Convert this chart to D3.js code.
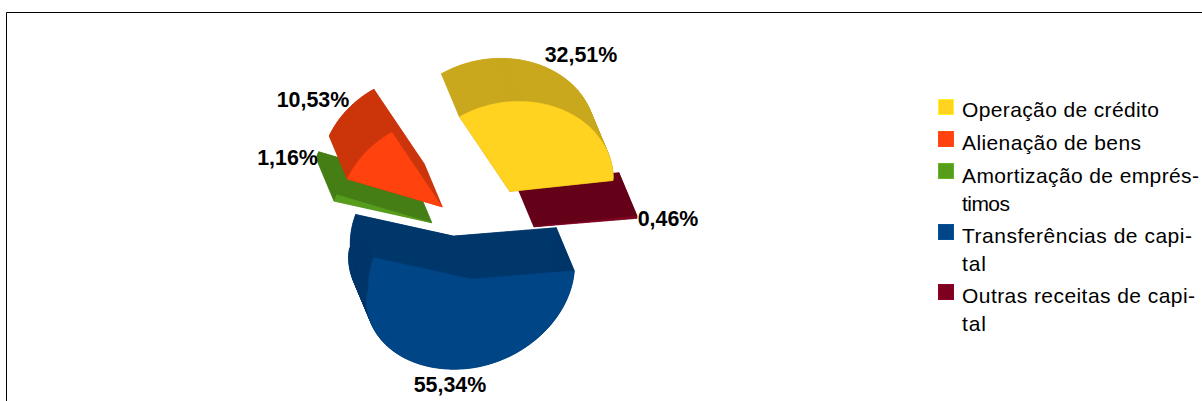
<!DOCTYPE html>
<html><head><meta charset="utf-8">
<script src="https://cdn.jsdelivr.net/npm/d3@7"></script>
<style>html,body{margin:0;padding:0;background:#fff}svg{display:block}text{font-family:"Liberation Sans",Arial,sans-serif}</style>
</head><body><svg id="c" width="1202" height="401"></svg>
<script>
const categories=["Operação de crédito","Alienação de bens","Amortização de empréstimos","Transferências de capital","Outras receitas de capital"];
const values=[32.51,10.53,1.16,55.34,0.46];
const valueLabels=["32,51%","10,53%","1,16%","55,34%","0,46%"];
const legendLines=[["Operação de crédito"],["Alienação de bens"],["Amortização de emprés-","timos"],["Transferências de capi-","tal"],["Outras receitas de capi-","tal"]];
const faceColors=["#FFD320","#FF420E","#579D1C","#004586","#7E0021"];
const wallColors=["#C9A81E","#CC350B","#467E16","#00376B","#650019"];
const explode=[0.537,0.537,0.537,0.48,0.49];
const sliceNudge=[[-1.5,-0.5],[0,0],[0,0],[0,0],[0,-4.5]];

const legendWidths={"Operação de crédito":197,"Alienação de bens":179,"Amortização de emprés-":237,"timos":48,"Transferências de capi-":230,"tal":24,"Outras receitas de capi-":233};
const legendBaselines=[[117],[150],[183,211],[243,271],[303,331]];
const swatchTops=[99,131,163,224,284];
const labelCentres=[[581,62],[313,107],[287.5,165],[450,392],[668,226]];

const svg=d3.select("#c");
svg.append("path").attr("d","M6.5,401V12.5H1202").attr("fill","none").attr("stroke","#000").attr("stroke-width",1);

const C=[483.5,236],A=[103,-11],Bback=[4,89.4],Bfront=[-4,89.4],D=[-18,-43];
function proj(u,v,z,o){
  const B=v>0?Bfront:Bback;
  const bulge=(u<0&&v>0)?6*u*Math.sqrt(v):(u>0&&v<0)?3*u*Math.sqrt(-v):0;
  return [C[0]+o[0]+u*A[0]+v*B[0]+bulge+z*D[0], C[1]+o[1]+u*A[1]+v*B[1]+z*D[1]];
}
const pie=d3.pie().sort(null).startAngle(0).endAngle(2*Math.PI);
const arcs=pie(values);
const line=d3.line();
function sliceGeom(i){
  const a=arcs[i],s=-a.startAngle,e=-a.endAngle,m=(s+e)/2;
  const o0=proj(Math.cos(m),Math.sin(m),0,[0,0]);
  const o=[(o0[0]-C[0])*explode[i]+sliceNudge[i][0],(o0[1]-C[1])*explode[i]+sliceNudge[i][1]];
  const n=Math.max(2,Math.ceil(Math.abs(e-s)/0.02));
  const ang=d3.range(n+1).map(k=>s+(e-s)*k/n);
  const rim=z=>ang.map(t=>proj(Math.cos(t),Math.sin(t),z,o));
  const apex=z=>proj(0,0,z,o);
  return {rim,apex};
}
const order=[3,4,0,2,1];
const g=svg.append("g");
order.forEach(i=>{
  const {rim,apex}=sliceGeom(i);
  const f=rim(0),b=rim(1),af=apex(0),ab=apex(1);
  const walls=[
    [ab,...b],
    [af,f[0],b[0],ab],
    [af,f[f.length-1],b[b.length-1],ab],
    ...d3.pairs(d3.range(f.length)).map(([p,q])=>[f[p],f[q],b[q],b[p]])
  ];
  g.append("g").selectAll("path").data(walls).join("path").attr("d",w=>line(w)+"Z")
    .attr("fill",wallColors[i]).attr("stroke",wallColors[i]).attr("stroke-width",0.5);
  g.append("path").attr("d",line([af,...f])+"Z").attr("fill",faceColors[i]).attr("stroke",faceColors[i]).attr("stroke-width",0.5);
});

valueLabels.forEach((t,i)=>{
  svg.append("text").attr("x",labelCentres[i][0]).attr("y",labelCentres[i][1]).attr("text-anchor","middle")
    .attr("font-size",21.4).attr("font-weight","bold").attr("fill","#000").text(t);
});

categories.forEach((c,i)=>{
  svg.append("rect").attr("x",938.5).attr("y",swatchTops[i]+0.5).attr("width",15).attr("height",15)
    .attr("fill",faceColors[i]).attr("stroke",d3.color(faceColors[i]).brighter(0.4)).attr("stroke-width",1);
  legendLines[i].forEach((l,k)=>{
    svg.append("text").attr("x",962).attr("y",legendBaselines[i][k]).attr("font-size",21).attr("fill","#000")
      .attr("textLength",legendWidths[l]).attr("lengthAdjust","spacing").text(l);
  });
});
</script></body></html>
